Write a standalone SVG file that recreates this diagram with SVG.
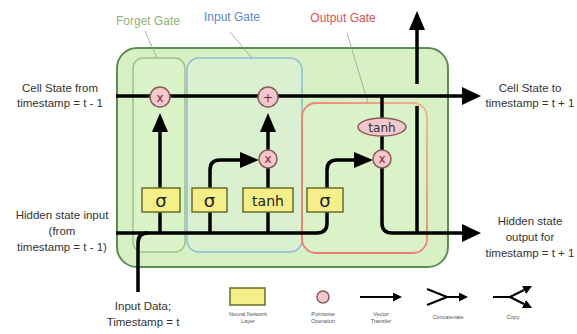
<svg xmlns="http://www.w3.org/2000/svg" width="577" height="334" viewBox="0 0 577 334">
<defs>
<style>
.t{font-family:"Liberation Sans",Arial,sans-serif;font-size:11.5px;fill:#333;text-anchor:middle}
.g{font-size:12px}
.lg{font-family:"Liberation Sans",Arial,sans-serif;font-size:5.5px;fill:#555;text-anchor:middle}
.ln{fill:none;stroke:#000;stroke-width:3.5}
.lnm{fill:none;stroke:#000;stroke-width:2.2}
.nn{fill:#f5ef8a;stroke:#6e6a2a;stroke-width:1.5}
.pw{fill:#f3c8cc;stroke:#8a5a5a;stroke-width:1.5}
.op{font-family:"DejaVu Sans",sans-serif;font-size:12px;fill:#8a1a3a;text-anchor:middle}
.nt{font-family:"DejaVu Sans",sans-serif;fill:#222;text-anchor:middle}
.lead{stroke:#999;stroke-width:0.8;fill:none}
</style>
<linearGradient id="og" x1="0" y1="1" x2="1" y2="0"><stop offset="0.4" stop-color="#f07a70"/><stop offset="1" stop-color="#f2b48c"/></linearGradient>
<marker id="ah" markerUnits="userSpaceOnUse" markerWidth="19" markerHeight="18" refX="0" refY="9" orient="auto"><path d="M0,0 L19,9 L0,18 z" fill="#000"/></marker>
<marker id="as" markerUnits="userSpaceOnUse" markerWidth="19" markerHeight="16" refX="0" refY="8" orient="auto"><path d="M0,0 L19,8 L0,16 z" fill="#000"/></marker>
<marker id="al" markerUnits="userSpaceOnUse" markerWidth="9" markerHeight="9" refX="0" refY="4.5" orient="auto"><path d="M0,0 L9,4.5 L0,9 z" fill="#000"/></marker>
</defs>
<rect width="577" height="334" fill="#fff"/>
<g id="cell"><rect x="117" y="48" width="331" height="219" rx="20" fill="#d7f1c5" stroke="#5f8c55" stroke-width="2"/></g>
<g id="forget-gate"><rect x="133" y="58" width="52" height="194" rx="10" fill="#daf3c9" stroke="#9cc48a" stroke-width="1.5"/>
<text class="t g" x="148" y="25" style="fill:#8ab870">Forget Gate</text><path class="lead" d="M145,31 L157,58"/></g>
<g id="input-gate"><rect x="187" y="58" width="115" height="194" rx="12" fill="#d9f1d0" stroke="#8ebad6" stroke-width="1.5"/>
<text class="t g" x="232" y="21" style="fill:#5a8ac8">Input Gate</text><path class="lead" d="M230,32 L252,58"/></g>
<g id="output-gate"><rect x="302" y="103" width="125" height="150" rx="14" fill="#d9f2c7" stroke="url(#og)" stroke-width="1.8"/>
<text class="t g" x="343" y="22" style="fill:#e05050">Output Gate</text><path class="lead" d="M347,33 L368,103"/></g>
<g id="connectors">
<path class="ln" d="M116,96 H462" marker-end="url(#ah)"/>
<path class="ln" d="M116,233 H317 Q327,233 327,223 V212"/>
<path class="ln" d="M138,292 V243 Q138,233 148,233"/>
<path class="ln" d="M160,233 V132" marker-end="url(#as)"/>
<path class="ln" d="M210,233 V170 Q210,160 220,160 H240" marker-end="url(#as)"/>
<path class="ln" d="M268,233 V168"/>
<path class="ln" d="M268,150 V132" marker-end="url(#as)"/>
<path class="ln" d="M327,188 V170 Q327,160 337,160 H354" marker-end="url(#as)"/>
<path class="ln" d="M382,96 V150"/>
<path class="ln" d="M382,168 V223 Q382,233 392,233 H462" marker-end="url(#ah)"/>
<path class="ln" d="M417,233 V106"/>
<path class="ln" d="M417,84 V30" marker-end="url(#as)"/>
</g>
<g id="sigma-f"><rect class="nn" x="142" y="188" width="38" height="24"/><text class="nt" x="161" y="207" font-size="18">σ</text></g>
<g id="sigma-i"><rect class="nn" x="192" y="188" width="35" height="24"/><text class="nt" x="209.5" y="207" font-size="18">σ</text></g>
<g id="tanh-i"><rect class="nn" x="243" y="188" width="50" height="24"/><text class="nt" x="268" y="205.5" font-size="14">tanh</text></g>
<g id="sigma-o"><rect class="nn" x="307" y="188" width="36" height="24"/><text class="nt" x="325" y="207" font-size="18">σ</text></g>
<g id="mul-f"><circle class="pw" cx="160" cy="97" r="10"/><text class="op" x="160" y="101.5">x</text></g>
<g id="add"><circle class="pw" cx="268" cy="97" r="10"/><text class="op" x="268" y="101.5">+</text></g>
<g id="mul-i"><circle class="pw" cx="268" cy="159" r="9"/><text class="op" x="268" y="163">x</text></g>
<g id="tanh-o"><ellipse class="pw" cx="382" cy="127" rx="24" ry="9"/><text class="op" x="382" y="131.5" style="fill:#333">tanh</text></g>
<g id="mul-o"><circle class="pw" cx="382" cy="159" r="9"/><text class="op" x="382" y="163">x</text></g>
<g id="labels">
<text class="t" x="60" y="92">Cell State from</text><text class="t" x="60" y="107">timestamp = t - 1</text>
<text class="t" x="530" y="92">Cell State to</text><text class="t" x="530" y="107">timestamp = t + 1</text>
<text class="t" x="62" y="219">Hidden state input</text><text class="t" x="62" y="235">(from</text><text class="t" x="62" y="251">timestamp = t - 1)</text>
<text class="t" x="530" y="225">Hidden state</text><text class="t" x="530" y="241">output for</text><text class="t" x="530" y="257">timestamp = t + 1</text>
<text class="t" x="143" y="310">Input Data;</text><text class="t" x="143" y="326">Timestamp = t</text>
</g>
<g id="legend">
<rect class="nn" x="230" y="288" width="35" height="17"/>
<text class="lg" x="248" y="316">Neural Network</text><text class="lg" x="248" y="323">Layer</text>
<circle class="pw" cx="323" cy="297" r="6"/>
<text class="lg" x="323" y="316">Pointwise</text><text class="lg" x="323" y="323">Operation</text>
<path class="lnm" d="M360,297 H393" marker-end="url(#al)"/>
<text class="lg" x="381" y="316">Vector</text><text class="lg" x="381" y="323">Transfer</text>
<path class="lnm" d="M427,289 L447,297 L427,305 M447,297 H459" marker-end="url(#al)"/>
<text class="lg" x="448" y="319">Concatenate</text>
<path class="lnm" d="M493,297 H510 L524,290" marker-end="url(#al)"/>
<path class="lnm" d="M510,297 L524,304" marker-end="url(#al)"/>
<text class="lg" x="513" y="319">Copy</text>
</g>
</svg>
